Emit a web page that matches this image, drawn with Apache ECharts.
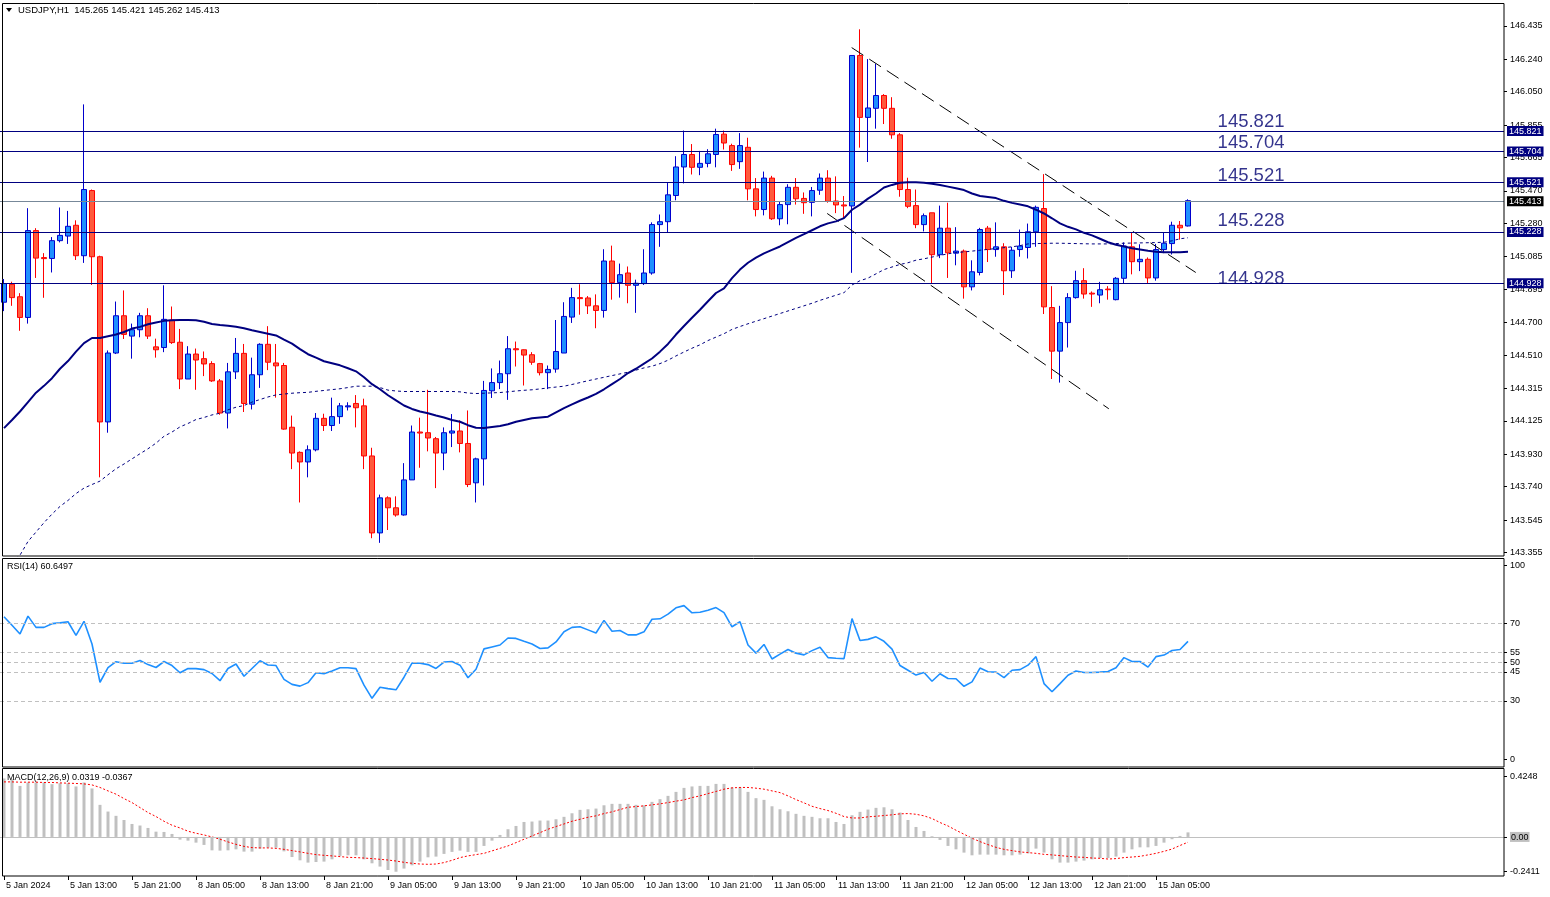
<!DOCTYPE html>
<html>
<head>
<meta charset="utf-8">
<script src="https://cdn.jsdelivr.net/npm/echarts@6/dist/echarts.min.js"></script>
<style>
html, body { margin: 0; padding: 0; background: #fff; }
#chart { width: 1550px; height: 897px; }
</style>
</head>
<body>
<div id="chart"></div>
<script>
// USDJPY H1, 149 hourly bars
var opens = [144.819,144.924,144.851,144.730,145.238,145.080,145.075,145.179,145.206,145.269,
145.091,145.472,145.085,144.119,144.522,144.740,144.621,144.658,144.740,144.558,
144.554,144.715,144.585,144.370,144.516,144.489,144.460,144.359,144.171,144.412,
144.520,144.223,144.395,144.573,144.464,144.449,144.088,143.941,143.885,143.956,
144.140,144.098,144.150,144.207,144.227,144.213,143.920,143.470,143.675,143.617,
143.575,143.780,144.060,144.056,144.021,143.937,144.054,144.066,143.993,143.763,
143.903,144.301,144.349,144.401,144.547,144.541,144.512,144.460,144.407,144.428,
144.522,144.732,144.846,144.844,144.798,144.771,145.060,144.934,144.990,144.918,
144.928,144.990,145.273,145.290,145.443,145.610,145.683,145.608,145.631,145.683,
145.802,145.735,145.641,145.725,145.482,145.361,145.545,145.307,145.390,145.491,
145.426,145.403,145.474,145.545,145.411,145.388,145.382,146.262,145.900,145.953,
146.028,145.953,145.798,145.478,145.384,145.273,145.342,145.097,145.252,145.106,
145.118,144.909,144.993,145.252,145.127,145.143,145.003,145.127,145.139,145.231,
145.367,144.788,144.533,144.700,144.846,144.945,144.872,144.861,144.896,144.834,
144.959,145.143,145.056,145.070,144.961,145.127,145.162,145.269,145.265];
var highs = [144.955,144.939,144.872,145.369,145.252,145.106,145.200,145.373,145.353,145.298,
145.976,145.478,145.091,144.537,144.823,144.888,144.694,144.757,144.784,144.606,
144.918,144.794,144.663,144.562,144.548,144.531,144.474,144.370,144.464,144.610,
144.575,144.495,144.579,144.679,144.575,144.464,144.156,143.947,143.982,144.171,
144.167,144.261,144.230,144.234,144.276,144.255,143.968,143.694,143.684,143.684,
143.878,144.098,144.144,144.307,144.031,144.087,144.165,144.129,144.186,143.910,
144.359,144.432,144.478,144.621,144.589,144.543,144.527,144.464,144.449,144.715,
144.819,144.903,144.924,144.855,144.865,145.129,145.150,145.045,145.028,144.951,
145.129,145.286,145.332,145.516,145.673,145.823,145.744,145.704,145.714,145.834,
145.823,145.746,145.808,145.781,145.545,145.583,145.558,145.411,145.509,145.545,
145.461,145.493,145.572,145.591,145.555,145.440,146.262,146.415,146.241,146.214,
146.036,146.018,145.808,145.547,145.478,145.338,145.342,145.384,145.401,145.258,
145.127,145.064,145.254,145.265,145.286,145.164,145.143,145.244,145.279,145.384,
145.568,144.913,144.798,144.872,145.003,145.018,144.882,144.938,144.913,144.966,
145.169,145.227,145.158,145.081,145.160,145.227,145.290,145.294,145.421];
var lows = [144.767,144.798,144.652,144.694,144.961,144.845,144.993,145.169,145.160,145.066,
145.049,144.920,143.795,144.056,144.516,144.604,144.489,144.614,144.604,144.495,
144.527,144.575,144.311,144.370,144.307,144.387,144.353,144.161,144.081,144.370,
144.177,144.192,144.318,144.422,144.261,144.073,143.843,143.648,143.795,143.947,
144.066,144.066,144.108,144.186,144.087,143.843,143.439,143.412,143.487,143.565,
143.571,143.780,143.851,143.947,143.732,143.837,143.972,143.941,143.738,143.648,
143.747,144.259,144.311,144.248,144.443,144.332,144.453,144.391,144.311,144.407,
144.522,144.698,144.746,144.750,144.667,144.729,144.834,144.846,144.813,144.757,
144.920,144.980,145.143,145.227,145.415,145.514,145.566,145.562,145.608,145.608,
145.712,145.587,145.599,145.415,145.321,145.327,145.300,145.269,145.275,145.390,
145.336,145.321,145.447,145.401,145.340,145.311,144.991,145.723,145.639,145.834,
145.861,145.775,145.436,145.369,145.252,145.233,144.928,145.077,144.961,145.035,
144.840,144.888,144.976,145.054,145.085,144.861,144.961,145.085,145.075,145.143,
144.750,144.370,144.349,144.554,144.840,144.840,144.792,144.813,144.834,144.830,
144.930,144.982,145.001,144.930,144.945,145.106,145.098,145.185,145.262];
var closes = [144.928,144.846,144.730,145.238,145.077,145.074,145.179,145.210,145.263,145.091,
145.478,145.085,144.119,144.522,144.740,144.631,144.658,144.740,144.621,144.541,
144.719,144.583,144.370,144.516,144.481,144.458,144.359,144.171,144.412,144.520,
144.227,144.395,144.573,144.468,144.447,144.077,143.937,143.885,143.956,144.140,
144.098,144.150,144.213,144.213,144.202,143.920,143.470,143.675,143.617,143.575,
143.780,144.060,144.054,144.025,143.937,144.056,144.066,143.993,143.753,143.903,
144.303,144.349,144.401,144.547,144.541,144.510,144.468,144.407,144.426,144.531,
144.736,144.846,144.840,144.798,144.771,145.060,144.934,144.980,144.918,144.930,
144.990,145.273,145.290,145.447,145.610,145.683,145.608,145.631,145.687,145.800,
145.750,145.624,145.735,145.482,145.361,145.545,145.307,145.390,145.491,145.424,
145.401,145.472,145.545,145.409,145.388,145.382,146.262,145.900,145.955,146.028,
145.953,145.798,145.478,145.380,145.273,145.325,145.097,145.252,145.108,145.118,
144.909,144.997,145.244,145.127,145.143,145.003,145.123,145.148,145.231,145.374,
144.792,144.533,144.700,144.846,144.945,144.867,144.867,144.892,144.892,144.959,
145.148,145.056,145.070,144.961,145.127,145.164,145.269,145.254,145.413];

// moving averages as drawn (solid and dotted)
var maSolid = [144.083,144.130,144.180,144.235,144.290,144.330,144.375,144.430,144.475,144.530,
144.580,144.610,144.610,144.620,144.630,144.645,144.665,144.675,144.690,144.700,
144.710,144.713,144.715,144.715,144.713,144.705,144.692,144.686,144.682,144.675,
144.667,144.655,144.645,144.635,144.625,144.600,144.577,144.545,144.515,144.495,
144.474,144.462,144.450,144.433,144.415,144.380,144.340,144.310,144.275,144.245,
144.215,144.195,144.180,144.170,144.157,144.145,144.130,144.120,144.100,144.085,
144.083,144.090,144.095,144.105,144.120,144.130,144.140,144.145,144.150,144.175,
144.200,144.222,144.243,144.262,144.283,144.310,144.340,144.370,144.405,144.430,
144.460,144.490,144.530,144.575,144.630,144.680,144.728,144.775,144.825,144.873,
144.900,144.960,145.010,145.050,145.080,145.105,145.125,145.145,145.170,145.195,
145.217,145.240,145.263,145.280,145.292,145.311,145.360,145.390,145.425,145.455,
145.490,145.505,145.518,145.520,145.520,145.518,145.512,145.505,145.495,145.485,
145.475,145.455,145.440,145.435,145.428,145.412,145.400,145.390,145.380,145.360,
145.338,145.310,145.280,145.260,145.245,145.225,145.210,145.190,145.170,145.155,
145.145,145.135,145.128,145.120,145.114,145.112,145.112,145.112,145.114];
var maDotted = [143.240,143.300,143.340,143.420,143.475,143.530,143.580,143.625,143.660,143.700,
143.732,143.753,143.773,143.810,143.845,143.873,143.903,143.933,143.962,143.995,
144.035,144.060,144.090,144.110,144.133,144.145,144.160,144.170,144.190,144.205,
144.215,144.235,144.250,144.265,144.277,144.282,144.287,144.290,144.292,144.298,
144.303,144.308,144.313,144.320,144.328,144.328,144.328,144.320,144.305,144.300,
144.297,144.297,144.297,144.297,144.297,144.297,144.297,144.295,144.288,144.285,
144.287,144.289,144.291,144.295,144.300,144.304,144.307,144.312,144.318,144.323,
144.328,144.338,144.349,144.360,144.370,144.380,144.390,144.400,144.410,144.422,
144.435,144.445,144.460,144.480,144.505,144.528,144.550,144.570,144.595,144.615,
144.635,144.660,144.677,144.693,144.708,144.723,144.738,144.753,144.768,144.783,
144.798,144.813,144.830,144.845,144.860,144.875,144.920,144.945,144.960,144.985,
145.010,145.025,145.040,145.050,145.065,145.073,145.083,145.093,145.102,145.110,
145.113,145.118,145.123,145.128,145.133,145.138,145.143,145.150,145.160,145.162,
145.163,145.164,145.164,145.163,145.162,145.161,145.160,145.160,145.160,145.162,
145.164,145.165,145.166,145.167,145.168,145.170,145.178,145.190,145.196];

var rsi = [73.4,69.0,64.5,73.7,67.9,67.9,69.8,70.2,70.8,63.8,
71.0,59.3,39.6,47.1,50.2,49.4,49.4,50.8,48.7,47.2,
50.3,48.2,44.5,46.7,46.6,46.1,44.1,40.4,46.7,49.0,
42.7,46.7,50.7,48.5,48.2,41.1,38.5,37.6,39.4,44.5,
44.0,45.4,47.1,47.1,46.6,38.1,31.3,37.0,36.3,35.7,
42.2,49.5,49.4,48.7,46.7,50.0,50.3,48.4,41.9,46.3,
56.8,57.8,58.8,62.4,62.2,60.7,59.3,57.0,57.3,60.4,
65.6,67.9,68.2,66.6,65.0,71.5,65.9,66.3,64.0,64.0,
65.6,72.1,72.3,74.7,78.0,79.1,75.4,75.7,76.7,78.1,
75.5,68.2,70.8,58.8,54.6,59.1,51.6,54.1,56.5,54.6,
53.7,55.9,57.6,52.3,52.0,51.8,72.4,61.1,61.7,63.0,
60.7,56.7,48.2,45.8,43.3,44.6,40.1,44.0,41.5,41.4,
37.5,39.8,46.9,45.0,44.8,42.0,45.8,46.1,48.4,52.8,
38.9,34.7,38.9,43.2,45.4,44.6,44.6,44.8,45.1,47.1,
52.3,50.3,50.3,47.4,52.8,53.6,56.0,56.5,60.65];

var macdHist = [0.410,0.405,0.358,0.382,0.382,0.382,0.370,0.377,0.377,0.354,
0.382,0.340,0.225,0.178,0.148,0.119,0.091,0.080,0.063,0.037,
0.035,0.021,-0.019,-0.026,-0.040,-0.056,-0.094,-0.096,-0.094,-0.087,
-0.103,-0.103,-0.082,-0.075,-0.075,-0.101,-0.141,-0.164,-0.180,-0.176,
-0.173,-0.157,-0.133,-0.129,-0.129,-0.157,-0.185,-0.208,-0.232,-0.244,
-0.222,-0.199,-0.173,-0.143,-0.138,-0.119,-0.105,-0.096,-0.105,-0.105,
-0.063,-0.026,0.014,0.054,0.077,0.105,0.108,0.115,0.115,0.124,
0.141,0.166,0.190,0.194,0.199,0.222,0.232,0.232,0.232,0.225,
0.222,0.246,0.265,0.288,0.316,0.344,0.354,0.358,0.358,0.372,
0.372,0.347,0.347,0.316,0.272,0.260,0.215,0.194,0.180,0.162,
0.148,0.141,0.131,0.131,0.105,0.091,0.152,0.176,0.192,0.204,
0.208,0.194,0.171,0.119,0.070,0.042,0.005,-0.021,-0.063,-0.087,
-0.110,-0.129,-0.124,-0.124,-0.124,-0.129,-0.129,-0.124,-0.115,-0.082,
-0.110,-0.157,-0.180,-0.180,-0.173,-0.166,-0.157,-0.148,-0.148,-0.138,
-0.110,-0.087,-0.073,-0.073,-0.063,-0.040,-0.016,0.007,0.032];
var macdSignal = [0.386,0.386,0.384,0.384,0.384,0.382,0.382,0.379,0.377,0.375,
0.372,0.365,0.347,0.323,0.300,0.269,0.241,0.206,0.171,0.143,
0.110,0.082,0.063,0.040,0.026,0.014,0.000,-0.016,-0.035,-0.052,
-0.066,-0.075,-0.077,-0.077,-0.080,-0.087,-0.096,-0.105,-0.115,-0.124,
-0.129,-0.133,-0.138,-0.143,-0.145,-0.148,-0.152,-0.157,-0.162,-0.169,
-0.178,-0.185,-0.190,-0.192,-0.190,-0.180,-0.164,-0.145,-0.133,-0.124,
-0.115,-0.098,-0.080,-0.063,-0.040,-0.016,0.007,0.030,0.054,0.073,
0.091,0.110,0.124,0.138,0.148,0.164,0.176,0.192,0.208,0.213,
0.218,0.225,0.232,0.241,0.251,0.260,0.276,0.288,0.304,0.319,
0.335,0.344,0.347,0.347,0.342,0.335,0.323,0.311,0.288,0.262,
0.239,0.215,0.199,0.185,0.166,0.143,0.133,0.133,0.141,0.145,
0.150,0.155,0.162,0.164,0.159,0.148,0.129,0.101,0.077,0.047,
0.019,-0.009,-0.033,-0.054,-0.073,-0.087,-0.096,-0.105,-0.110,-0.115,
-0.122,-0.126,-0.131,-0.136,-0.141,-0.143,-0.148,-0.150,-0.155,-0.152,
-0.145,-0.141,-0.136,-0.126,-0.115,-0.101,-0.085,-0.060,-0.037];

// axis ticks / labels
var timeLabels = ['5 Jan 2024','5 Jan 13:00','5 Jan 21:00','8 Jan 05:00','8 Jan 13:00','8 Jan 21:00',
  '9 Jan 05:00','9 Jan 13:00','9 Jan 21:00','10 Jan 05:00','10 Jan 13:00','10 Jan 21:00',
  '11 Jan 05:00','11 Jan 13:00','11 Jan 21:00','12 Jan 05:00','12 Jan 13:00','12 Jan 21:00','15 Jan 05:00'];
var priceTicks = [146.435,146.240,146.050,145.855,145.665,145.470,145.280,145.085,144.895,
  144.700,144.510,144.315,144.125,143.930,143.740,143.545,143.355];
var rsiTicks = [0,30,45,50,55,70,100];
var rsiLevels = [30,45,50,55,70];
var macdTicks = [-0.2411,0,0.4248];

// horizontal levels and trend channel (bar index, price)
var levels = [145.821,145.704,145.521,145.228,144.928];
var lastPrice = 145.413;
var trendLines = [[105.96,146.308,148.97,144.993],[102.9,145.338,138.1,144.196]];

var FONT = 'Liberation Sans, Arial, sans-serif';
var SLOTS = 188;          // bars incl. empty right shift
var NAVY = '#000080';
var labelLift = [9, 8, 6.5, 11.5, 4.5];  // big level texts sit a little above their lines

var cats = [];
for (var i = 0; i < SLOTS; i++) cats.push(String(i));
var candles = opens.map(function (o, i) { return [o, closes[i], lows[i], highs[i]]; });

function showTime(idx) { return idx % 8 === 0 && idx / 8 < timeLabels.length; }

function catAxis(grid, withLabels) {
  return {
    type: 'category', gridIndex: grid, data: cats, boundaryGap: true,
    axisLine: {show: false, onZero: false}, splitLine: {show: false},
    axisTick: {show: withLabels, alignWithLabel: true, length: 4, lineStyle: {color: '#000'}, interval: showTime},
    axisLabel: {show: withLabels, align: 'left', margin: 5, fontFamily: FONT, fontSize: 9, color: '#000',
      padding: [0, 0, 0, 2], interval: showTime,
      formatter: function (v, idx) { return timeLabels[idx / 8] || ''; }}
  };
}
function rightAxis(grid, min, max, ticks, fmt) {
  return {
    type: 'value', gridIndex: grid, position: 'right', min: min, max: max,
    axisLine: {show: false, onZero: false}, splitLine: {show: false},
    axisTick: {show: true, length: 3, lineStyle: {color: '#000'}, customValues: ticks},
    axisLabel: {margin: 6, fontFamily: FONT, fontSize: 9, color: '#000', customValues: ticks, formatter: fmt,
      rich: {z: {backgroundColor: '#c0c0c0', fontFamily: FONT, fontSize: 9, color: '#000', padding: [1, 1, 0, 1]}}}
  };
}

var levelMarks = levels.map(function (v) {
  return {yAxis: v, lineStyle: {color: NAVY, width: 1, type: 'solid'},
    label: {show: true, position: 'end', distance: 3, formatter: v.toFixed(3), backgroundColor: NAVY,
      color: '#fff', fontFamily: FONT, fontSize: 9, padding: [1, 2, 0, 2]}};
});
levelMarks.push({yAxis: lastPrice, lineStyle: {color: '#778899', width: 1, type: 'solid'},
  label: {show: true, position: 'end', distance: 3, formatter: lastPrice.toFixed(3), backgroundColor: '#000',
    color: '#fff', fontFamily: FONT, fontSize: 9, padding: [1, 2, 0, 2]}});

var trendSeries = trendLines.map(function (t, k) {
  var s = {
    type: 'line', xAxisIndex: 3, yAxisIndex: 0, data: [[t[0], t[1]], [t[2], t[3]]],
    symbol: 'none', silent: true, z: 4,
    lineStyle: {color: '#000', width: 1, type: [14, 7]}
  };
  if (k === 0) {
    s.markLine = {silent: true, symbol: ['none', 'none'], animation: false, data: levelMarks};
  }
  return s;
});

var option = {
  animation: false,
  backgroundColor: '#fff',
  grid: [
    {left: 0, top: 4, width: 1504, height: 552},
    {left: 0, top: 558.5, width: 1504, height: 208.5},
    {left: 0, top: 768.5, width: 1504, height: 107.5}
  ],
  xAxis: [catAxis(0, false), catAxis(1, false), catAxis(2, true),
    {type: 'value', gridIndex: 0, min: -0.5, max: SLOTS - 0.5, show: false}],
  yAxis: [
    rightAxis(0, 143.335, 146.563, priceTicks, function (v) { return v.toFixed(3); }),
    rightAxis(1, -4.1, 103.4, rsiTicks, function (v) { return String(v); }),
    rightAxis(2, -0.274, 0.48, macdTicks, function (v) {
      return v === 0 ? '{z|0.00}' : v.toFixed(4);
    })
  ],
  series: [
    {
      type: 'candlestick', xAxisIndex: 0, yAxisIndex: 0, data: candles, barWidth: 5, z: 3,
      itemStyle: {color: '#1E90FF', color0: '#FF5A3C', borderColor: '#0000CD', borderColor0: '#FF0000', borderWidth: 1}
    },
    {
      type: 'line', xAxisIndex: 0, yAxisIndex: 0, data: maSolid, symbol: 'none', z: 5,
      lineStyle: {color: NAVY, width: 2}
    },
    {
      type: 'line', xAxisIndex: 0, yAxisIndex: 0, data: maDotted, symbol: 'none', z: 5,
      lineStyle: {color: NAVY, width: 1, type: [3, 3]}
    }
  ].concat(trendSeries).concat([
    {
      type: 'scatter', xAxisIndex: 3, yAxisIndex: 0, symbolSize: 0, silent: true, z: 6,
      data: levels.map(function (v, k) { return [151.7, v, k]; }),
      label: {show: true, position: 'right', distance: 0, color: '#000070', fontFamily: FONT, fontSize: 18.5,
        formatter: function (p) { return levels[p.value[2]].toFixed(3); }},
      labelLayout: function (p) { return {dy: -labelLift[p.dataIndex]}; }
    },
    {
      type: 'line', xAxisIndex: 1, yAxisIndex: 1, data: rsi, symbol: 'none', z: 3,
      lineStyle: {color: '#1E90FF', width: 1.6},
      markLine: {silent: true, symbol: ['none', 'none'], label: {show: false},
        lineStyle: {color: '#c0c0c0', width: 1, type: [4, 3]},
        data: rsiLevels.map(function (v) { return {yAxis: v}; })}
    },
    {
      type: 'bar', xAxisIndex: 2, yAxisIndex: 2, data: macdHist, barWidth: 3, z: 2,
      itemStyle: {color: '#c0c0c0'},
      markLine: {silent: true, symbol: ['none', 'none'], label: {show: false},
        lineStyle: {color: '#c0c0c0', width: 1, type: 'solid'}, data: [{yAxis: 0}]}
    },
    {
      type: 'line', xAxisIndex: 2, yAxisIndex: 2, data: macdSignal, symbol: 'none', z: 3,
      lineStyle: {color: '#FF0000', width: 1, type: [2, 2]}
    }
  ]),
  graphic: [
    {type: 'rect', z: 100, silent: true, shape: {x: 2.5, y: 3.5, width: 1501.5, height: 552.5},
      style: {fill: null, stroke: '#000', lineWidth: 1}},
    {type: 'rect', z: 100, silent: true, shape: {x: 2.5, y: 558.5, width: 1501.5, height: 208.5},
      style: {fill: null, stroke: '#000', lineWidth: 1}},
    {type: 'rect', z: 100, silent: true, shape: {x: 2.5, y: 768.5, width: 1501.5, height: 107.5},
      style: {fill: null, stroke: '#000', lineWidth: 1}},
    {type: 'polygon', z: 100, silent: true, shape: {points: [[6, 8], [12, 8], [9, 12]]}, style: {fill: '#000'}},
    {type: 'text', z: 100, silent: true, x: 18, y: 10,
      style: {text: 'USDJPY,H1  145.265 145.421 145.262 145.413', fontFamily: FONT, fontSize: 9.5,
        fill: '#000', verticalAlign: 'middle'}},
    {type: 'text', z: 100, silent: true, x: 7, y: 567,
      style: {text: 'RSI(14) 60.6497', fontFamily: FONT, fontSize: 9, fill: '#000', verticalAlign: 'middle'}},
    {type: 'text', z: 100, silent: true, x: 7, y: 778,
      style: {text: 'MACD(12,26,9) 0.0319 -0.0367', fontFamily: FONT, fontSize: 9, fill: '#000', verticalAlign: 'middle'}}
  ]
};

var chart = echarts.init(document.getElementById('chart'));
chart.setOption(option);
</script>
</body>
</html>
